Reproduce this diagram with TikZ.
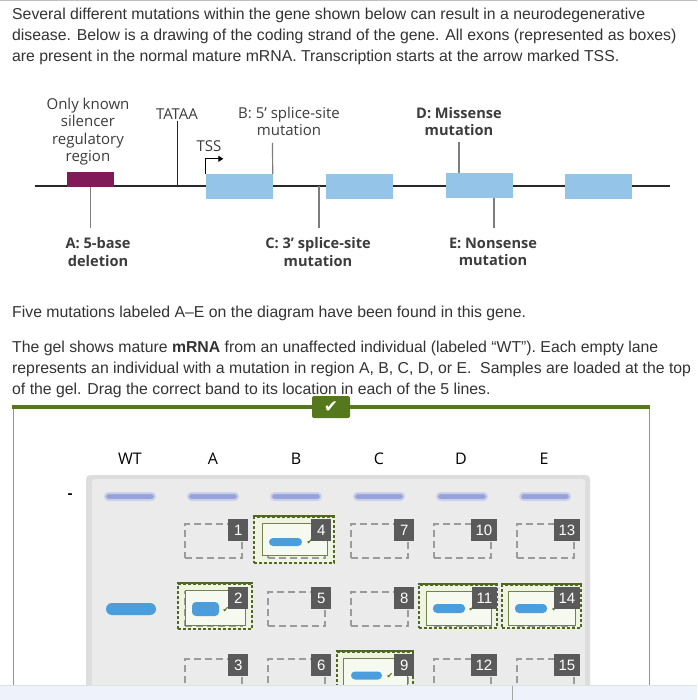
\documentclass[tikz,border=0pt]{standalone}
\usepackage{fontspec}
\setmainfont{Liberation Sans}
\newfontfamily\osans{Open Sans}
\newfontfamily\dejavu{DejaVu Sans}
\usetikzlibrary{arrows.meta}
\definecolor{txtgray}{RGB}{51,51,51}
\definecolor{lblgray}{RGB}{60,60,60}
\definecolor{exonblue}{RGB}{148,196,232}
\definecolor{silpurple}{RGB}{128,26,88}
\definecolor{strandgray}{RGB}{40,40,40}
\definecolor{mutgray}{RGB}{125,125,125}
\definecolor{okgreen}{RGB}{85,120,28}
\definecolor{framecol}{RGB}{150,150,120}
\definecolor{gelrim}{RGB}{221,221,221}
\definecolor{gelin}{RGB}{235,235,235}
\definecolor{wellcol}{RGB}{150,162,216}
\definecolor{bandblue}{RGB}{74,158,222}
\definecolor{zonegray}{RGB}{155,155,155}
\definecolor{tagfill}{RGB}{90,90,90}
\definecolor{dropedge}{RGB}{80,105,30}
\definecolor{dropfill}{RGB}{238,243,226}
\definecolor{cardedge}{RGB}{115,130,75}
\definecolor{cardfill}{RGB}{246,249,240}
\definecolor{botbar}{RGB}{238,242,250}
\tikzset{
  para/.style   = {anchor=base west, inner sep=0pt, text=txtgray,
                   font=\fontsize{15.8}{20}\selectfont},
  glbl/.style   = {align=center, inner sep=1pt, text=lblgray,
                   font=\osans\fontsize{15}{17.5}\selectfont},
  glblb/.style  = {glbl, font=\osans\bfseries\fontsize{14.6}{17.5}\selectfont},
  lane/.style   = {inner sep=0pt, font=\osans\fontsize{16}{18}\selectfont},
  exon/.style   = {fill=exonblue, minimum width=67pt, minimum height=25pt, inner sep=0pt},
  silbox/.style = {fill=silpurple, minimum width=47pt, minimum height=15pt, inner sep=0pt},
  strand/.style = {draw=strandgray, line width=1.5pt},
  mut/.style    = {draw=mutgray, line width=1.2pt},
  tataline/.style = {draw=strandgray, line width=0.9pt},
  tss/.style    = {-{Triangle[length=5pt,width=6pt]}, line width=1.1pt},
  badge/.style  = {fill=okgreen, rounded corners=2pt, minimum width=38pt,
                   minimum height=22pt, inner sep=0pt, text=white,
                   font=\dejavu\fontsize{17}{17}\selectfont},
  well/.style   = {fill=wellcol, draw=wellcol!50, line width=2pt, rounded corners=3.5pt,
                   minimum width=50pt, minimum height=7pt, inner sep=0pt},
  band/.style   = {fill=bandblue, rounded corners=4pt, inner sep=0pt},
  zone/.style   = {draw=zonegray, dash pattern=on 7pt off 4pt, line width=1.1pt,
                   minimum width=57pt, minimum height=34pt, inner sep=0pt},
  tag/.style    = {fill=tagfill, text=white, anchor=north east, minimum height=22pt,
                   minimum width=20pt, inner xsep=5pt, inner ysep=0pt,
                   font=\fontsize{15}{15}\selectfont},
  drop/.style   = {draw=dropedge, fill=dropfill, line width=2.2pt,
                   dash pattern=on 3pt off 2pt, inner sep=0pt},
  droptop/.style= {draw=dropedge, line width=2.6pt},
  card/.style   = {draw=cardedge, fill=cardfill, line width=0.9pt, inner sep=0pt},
  chk/.style    = {text=dropedge, inner sep=0pt, font=\dejavu\fontsize{8}{8}\selectfont}
}
\begin{document}
\begin{tikzpicture}[x=1pt,y=-1pt]
  \fill[white] (0,0) rectangle (697,700);
  \useasboundingbox (0,0) rectangle (697,700);
  \draw[black!25] (0,0.5) -- (697,0.5);
  % question text
  \node[para] (p1) at (12,20) {Several different mutations within the gene shown below can result in a neurodegenerative};
  \node[para] (p2) at (12,41) {disease. Below is a drawing of the coding strand of the gene. All exons (represented as boxes)};
  \node[para] (p3) at (12,61.5) {are present in the normal mature mRNA. Transcription starts at the arrow marked TSS.};
  % gene
  \coordinate (s0) at (35,186); \coordinate (s1) at (670,186);
  \draw[strand] (s0) -- (s1);
  \node[silbox] (sil) at (90.5,179.5) {};
  \node[exon] (ex1) at (239,186.5) {};
  \node[exon] (ex2) at (359.5,186.5) {};
  \node[exon] (ex3) at (479,186) {};
  \node[exon] (ex4) at (598.5,186.5) {};
  \node[glbl]  (silab) at (88,131.5) {Only known\\silencer\\regulatory\\region};
  \node[glbl]  (tata) at (177,114) {TATAA};
  \node[glbl]  (tss) at (209,146) {TSS};
  \node[glbl]  (labB) at (289,121.5) {B: 5’ splice-site\\mutation};
  \node[glblb] (labD) at (459,121.5) {D: Missense\\mutation};
  \node[glblb] (labA) at (98,252) {A: 5-base\\deletion};
  \node[glblb] (labC) at (318,252) {C: 3’ splice-site\\mutation};
  \node[glblb] (labE) at (493,252) {E: Nonsense\\mutation};
  \coordinate (tataS) at (177,186);
  \coordinate (mA) at (90.5,228); \coordinate (mB) at (272.5,143);
  \coordinate (mC0) at (319,186); \coordinate (mC) at (319,228);
  \coordinate (mD0) at (459,173.5); \coordinate (mD) at (459,142);
  \coordinate (mE0) at (494,198.5); \coordinate (mE) at (494,228);
  \draw[tataline] (tata.south) -- (tataS);
  \draw[tss] (ex1.north west) -- ++(0,-15) -- ++(18,0);
  \draw[mut] (sil.south) -- (mA); \draw[mut] (ex1.north east) -- (mB);
  \draw[mut] (mC0) -- (mC); \draw[mut] (mD0) -- (mD); \draw[mut] (mE0) -- (mE);
  % more text
  \node[para] (p4) at (12,317) {Five mutations labeled A--E on the diagram have been found in this gene.};
  \node[para] (p5) at (12,352) {The gel shows mature \textbf{mRNA} from an unaffected individual (labeled “WT”). Each empty lane};
  \node[para] (p6) at (12,373) {represents an individual with a mutation in region A, B, C, D, or E.\ \ Samples are loaded at the top};
  \node[para] (p7) at (12,394) {of the gel. Drag the correct band to its location in each of the 5 lines.};
  % answer frame
  \draw[framecol, line width=0.8pt] (13,407) -- (13,686) (649,407) -- (649,686);
  \draw[okgreen, line width=4pt] (12,407) -- (650,407);
  \node[badge] (ok) at (331,407) {✔};
  \node[lane] (lWT) at (130,459) {WT}; \node[lane] (lA) at (213,459) {A};
  \node[lane] (lB) at (296,459) {B}; \node[lane] (lC) at (379,459) {C};
  \node[lane] (lD) at (461,459) {D}; \node[lane] (lE) at (544,459) {E};
  \node[font=\bfseries\fontsize{15}{15}\selectfont, inner sep=0pt] (minus) at (70,496) {-};
  % gel
  \fill[gelrim, rounded corners=4pt] (86,475) rectangle (590,705);
  \fill[gelin, rounded corners=3pt] (92,479) rectangle (585,705);
  \node[well] (w0) at (130,496.5) {}; \node[well] (w1) at (213,496.5) {};
  \node[well] (w2) at (296,496.5) {}; \node[well] (w3) at (379,496.5) {};
  \node[well] (w4) at (462,496.5) {}; \node[well] (w5) at (545,496.5) {};
  % row 1
  \node[zone] (z1) at (213.5,541) {}; \node[tag] (t1) at (248.5,519) {1};
  \node[drop, minimum width=80pt, minimum height=46pt] (d4) at (294,540) {};
  \draw[droptop] (d4.north west) -- (d4.north east);
  \node[zone] (z4) at (296.5,541) {};
  \node[card, minimum width=65pt, minimum height=32pt] (c4) at (294.5,539) {};
  \node[band, minimum width=33pt, minimum height=8pt] (b4) at (285.5,542) {};
  \node[chk] (k4) at (310,542) {✔}; \node[tag] (t4) at (331.5,519) {4};
  \node[zone] (z7) at (379.5,541) {}; \node[tag] (t7) at (414.5,519) {7};
  \node[zone] (z10) at (462.5,541) {}; \node[tag] (t10) at (497.5,519) {10};
  \node[zone] (z13) at (545.5,541) {}; \node[tag] (t13) at (580.5,519) {13};
  % row 2
  \node[band, minimum width=50pt, minimum height=12pt, rounded corners=6pt] (wt) at (131,609) {};
  \node[drop, minimum width=74pt, minimum height=45pt] (d2) at (215,606.5) {};
  \draw[droptop] (d2.north west) -- (d2.north east);
  \node[zone] (z2) at (213.5,609) {};
  \node[card, minimum width=60pt, minimum height=35pt] (c2) at (215,607.5) {};
  \node[band, minimum width=27pt, minimum height=14pt] (b2) at (205.5,609) {};
  \node[chk] (k2) at (226,610) {✔}; \node[tag] (t2) at (248.5,587) {2};
  \node[zone] (z5) at (296.5,609) {}; \node[tag] (t5) at (331.5,587) {5};
  \node[zone] (z8) at (379.5,609) {}; \node[tag] (t8) at (414.5,587) {8};
  \node[drop, minimum width=78pt, minimum height=43pt] (d11) at (458,606.5) {};
  \draw[droptop] (d11.north west) -- (d11.north east);
  \node[zone] (z11) at (462.5,609) {};
  \node[card, minimum width=65pt, minimum height=34pt] (c11) at (458.5,608) {};
  \node[band, minimum width=32pt, minimum height=9pt] (b11) at (449,608.5) {};
  \node[chk] (k11) at (472,609) {✔}; \node[tag] (t11) at (497.5,587) {11};
  \node[drop, minimum width=79pt, minimum height=43pt] (d14) at (541.5,606.5) {};
  \draw[droptop] (d14.north west) -- (d14.north east);
  \node[zone] (z14) at (545.5,609) {};
  \node[card, minimum width=67pt, minimum height=34pt] (c14) at (541.5,608) {};
  \node[band, minimum width=32pt, minimum height=9pt] (b14) at (531,608.5) {};
  \node[chk] (k14) at (555,609) {✔}; \node[tag] (t14) at (580.5,587) {14};
  % row 3
  \node[zone] (z3) at (213.5,676) {}; \node[tag] (t3) at (248.5,654) {3};
  \node[zone] (z6) at (296.5,676) {}; \node[tag] (t6) at (331.5,654) {6};
  \node[drop, minimum width=76pt, minimum height=46pt] (d9) at (375,675) {};
  \draw[droptop] (d9.north west) -- (d9.north east);
  \node[zone] (z9) at (379.5,676) {};
  \node[card, minimum width=64pt, minimum height=32pt] (c9) at (375,674) {};
  \node[band, minimum width=31pt, minimum height=8pt] (b9) at (366.5,675.5) {};
  \node[chk] (k9) at (390,676) {✔}; \node[tag] (t9) at (414.5,654) {9};
  \node[zone] (z12) at (462.5,676) {}; \node[tag] (t12) at (497.5,654) {12};
  \node[zone] (z15) at (545.5,676) {}; \node[tag] (t15) at (580.5,654) {15};
  % bottom bar
  \fill[botbar] (0,685.5) rectangle (697,700);
  \draw[black!12] (0,685.5) -- (697,685.5);
  \draw[black!35, line width=0.8pt] (512,685.5) -- (512,700);
\end{tikzpicture}
\end{document}
